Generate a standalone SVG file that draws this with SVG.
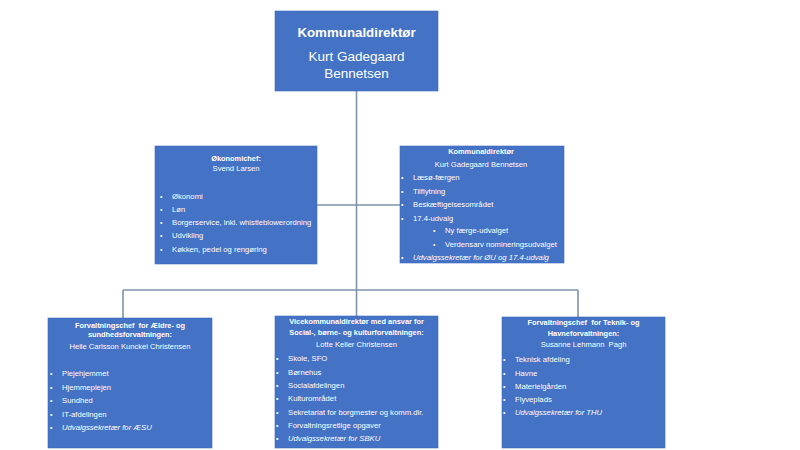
<svg xmlns="http://www.w3.org/2000/svg" width="800" height="450" viewBox="0 0 800 450">
<style>
.box{fill:#4472c4;stroke:#3f6abb;stroke-width:0.6}
text{font-family:"Liberation Sans",Arial,sans-serif;fill:#ffffff}
.t1{font-size:13.3px;font-weight:bold;text-anchor:middle}
.t2{font-size:13.5px;text-anchor:middle}
.h{font-size:7.4px;font-weight:bold;text-anchor:middle}
.n{font-size:7.6px;text-anchor:middle}
.b{font-size:7.7px}
.i{font-size:7.7px;font-style:italic}
.dot{font-size:7px}
.conn line{stroke:#7d93ab;stroke-width:1.6}
</style>
<rect width="800" height="450" fill="#ffffff"/>
<g class="conn" id="connectors">
<line x1="356.5" y1="91" x2="356.5" y2="290"/>
<line x1="317" y1="205" x2="400" y2="205"/>
<line x1="123" y1="290" x2="578" y2="290"/>
<line x1="123" y1="290" x2="123" y2="318"/>
<line x1="356.5" y1="290" x2="356.5" y2="316"/>
<line x1="578" y1="290" x2="578" y2="317"/>
</g>
<g id="kommunaldirektor">
<rect class="box" x="275" y="11" width="163" height="80"/>
<text class="t1" x="356.5" y="37">Kommunaldirektør</text>
<text class="t2" x="356.5" y="61">Kurt Gadegaard</text>
<text class="t2" x="356.5" y="78">Bennetsen</text>
</g>
<g id="okonomichef">
<rect class="box" x="155" y="146" width="162" height="118"/>
<text class="h" x="236" y="161">Økonomichef:</text>
<text class="n" x="236" y="171">Svend Larsen</text>
<text class="dot" x="160" y="199">•</text><text class="b" x="172" y="199">Økonomi</text>
<text class="dot" x="160" y="212">•</text><text class="b" x="172" y="212">Løn</text>
<text class="dot" x="160" y="225">•</text><text class="b" x="172" y="225">Borgerservice, inkl. whistleblowerordning</text>
<text class="dot" x="160" y="238">•</text><text class="b" x="172" y="238">Udvikling</text>
<text class="dot" x="160" y="252">•</text><text class="b" x="172" y="252">Køkken, pedel og rengøring</text>
</g>
<g id="kommunaldirektor-opgaver">
<rect class="box" x="400" y="146" width="164" height="117"/>
<text class="h" x="481" y="154">Kommunaldirektør</text>
<text class="n" x="481" y="167">Kurt Gadegaard Bennetsen</text>
<text class="dot" x="401" y="180">•</text><text class="b" x="413" y="180">Læsø-færgen</text>
<text class="dot" x="401" y="194">•</text><text class="b" x="413" y="194">Tilflytning</text>
<text class="dot" x="401" y="207">•</text><text class="b" x="413" y="207">Beskæftigelsesområdet</text>
<text class="dot" x="401" y="221">•</text><text class="b" x="413" y="221">17.4-udvalg</text>
<text class="dot" x="433" y="233">•</text><text class="b" x="445" y="233">Ny færge-udvalget</text>
<text class="dot" x="433" y="247">•</text><text class="b" x="445" y="247">Verdensarv nomineringsudvalget</text>
<text class="dot" x="401" y="260">•</text><text class="i" x="413" y="260">Udvalgssekretær for ØU og 17.4-udvalg</text>
</g>
<g id="aeldre-sundhed">
<rect class="box" x="48" y="318" width="164" height="130"/>
<text class="h" x="130" y="328" xml:space="preserve">Forvaltningschef  for Ældre- og</text>
<text class="h" x="130" y="337">sundhedsforvaltningen:</text>
<text class="n" x="130" y="349">Helle Carlsson Kunckel Christensen</text>
<text class="dot" x="50" y="376">•</text><text class="b" x="62" y="376">Plejehjemmet</text>
<text class="dot" x="50" y="390">•</text><text class="b" x="62" y="390">Hjemmeplejen</text>
<text class="dot" x="50" y="403">•</text><text class="b" x="62" y="403">Sundhed</text>
<text class="dot" x="50" y="417">•</text><text class="b" x="62" y="417">IT-afdelingen</text>
<text class="dot" x="50" y="430">•</text><text class="i" x="62" y="430">Udvalgssekretær for ÆSU</text>
</g>
<g id="social-borne-kultur">
<rect class="box" x="275" y="316" width="163" height="132"/>
<text class="h" x="356.5" y="324">Vicekommunaldirektør med ansvar for</text>
<text class="h" x="356.5" y="334.5">Social-, børne- og kulturforvaltningen:</text>
<text class="n" x="356.5" y="347">Lotte Keller Christensen</text>
<text class="dot" x="276" y="361">•</text><text class="b" x="288" y="361">Skole, SFO</text>
<text class="dot" x="276" y="374.5">•</text><text class="b" x="288" y="374.5">Børnehus</text>
<text class="dot" x="276" y="388">•</text><text class="b" x="288" y="388">Socialafdelingen</text>
<text class="dot" x="276" y="401">•</text><text class="b" x="288" y="401">Kulturområdet</text>
<text class="dot" x="276" y="414.5">•</text><text class="b" x="288" y="414.5">Sekretariat for borgmester og komm.dir.</text>
<text class="dot" x="276" y="428">•</text><text class="b" x="288" y="428">Forvaltningsretlige opgaver</text>
<text class="dot" x="276" y="441">•</text><text class="i" x="288" y="441">Udvalgssekretær for SBKU</text>
</g>
<g id="teknik-havne">
<rect class="box" x="502" y="317" width="163" height="131"/>
<text class="h" x="583.5" y="324.5" xml:space="preserve">Forvaltningschef  for Teknik- og</text>
<text class="h" x="583.5" y="335.5">Havneforvaltningen:</text>
<text class="n" x="583.5" y="347" xml:space="preserve">Susanne Lehmann  Pagh</text>
<text class="dot" x="503" y="362">•</text><text class="b" x="515" y="362">Teknisk afdeling</text>
<text class="dot" x="503" y="375.5">•</text><text class="b" x="515" y="375.5">Havne</text>
<text class="dot" x="503" y="388.5">•</text><text class="b" x="515" y="388.5">Materielgården</text>
<text class="dot" x="503" y="402">•</text><text class="b" x="515" y="402">Flyveplads</text>
<text class="dot" x="503" y="415">•</text><text class="i" x="515" y="415">Udvalgssekretær for THU</text>
</g>
</svg>
